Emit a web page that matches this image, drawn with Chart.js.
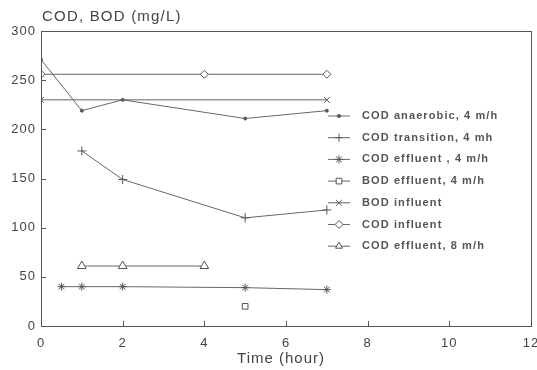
<!DOCTYPE html>
<html>
<head>
<meta charset="utf-8">
<script src="https://cdn.jsdelivr.net/npm/chart.js@4/dist/chart.umd.min.js"></script>
<style>
  html, body { margin: 0; padding: 0; background: #fff; }
  #wrap { width: 537px; height: 370px; }
</style>
</head>
<body>
<div id="wrap"><canvas id="codChart" width="537" height="370"></canvas></div>
<script>
// ── Data ──────────────────────────────────────────────────────
const anaerobicTime   = [0, 1, 2, 5, 7];
const anaerobicCOD    = [271, 219, 230, 211, 219];

const transitionTime  = [1, 2, 5, 7];
const transitionCOD   = [178, 149, 110, 118];

const effluent4Time   = [0.5, 1, 2, 5, 7];
const effluent4COD    = [40, 40, 40, 39, 37];

const bodEffluentTime = [5];
const bodEffluent     = [20];

const bodInfluentTime = [0, 7];
const bodInfluent     = [230, 230];

const codInfluentTime = [0, 4, 7];
const codInfluent     = [256, 256, 256];

const effluent8Time   = [1, 2, 4];
const effluent8COD    = [61, 61, 61];

const xTicks = [0, 2, 4, 6, 8, 10, 12];
const yTicks = [0, 50, 100, 150, 200, 250, 300];

const INK  = '#444';
const LINE = '#666';
const FONT = "'Liberation Sans', Arial, sans-serif";

// zip two arrays into {x, y} points
const pts = (xs, ys) => xs.map((x, i) => ({ x: x, y: ys[i] }));

// shared look for every series
function series(label, xs, ys, style, radius, extra) {
    return Object.assign({
        label: label,
        data: pts(xs, ys),
        borderColor: LINE,
        borderWidth: 1,
        pointStyle: style,
        pointRadius: radius,
        pointBorderColor: '#555',
        pointBorderWidth: 1,
        pointBackgroundColor: '#fff',
        tension: 0
    }, extra || {});
}

// wide lettering like the original (tick labels are drawn in between)
const spacingPlugin = {
    id: 'spacing',
    beforeDraw(chart) { chart.ctx.letterSpacing = '1px'; }
};

// ── Box frame, inward tick marks, captions ────────────────────
const framePlugin = {
    id: 'frame',
    afterDraw(chart) {
        const { ctx, chartArea: a, scales } = chart;
        ctx.save();
        ctx.strokeStyle = '#555';
        ctx.lineWidth = 1;
        ctx.strokeRect(a.left + 0.5, a.top + 0.5, a.right - a.left, a.bottom - a.top);

        ctx.beginPath();
        xTicks.slice(1, -1).forEach(v => {
            const x = Math.round(scales.x.getPixelForValue(v)) + 0.5;
            ctx.moveTo(x, a.bottom);
            ctx.lineTo(x, a.bottom - 5);
        });
        yTicks.slice(1, -1).forEach(v => {
            const y = Math.round(scales.y.getPixelForValue(v)) + 0.5;
            ctx.moveTo(a.left, y);
            ctx.lineTo(a.left + 5, y);
        });
        ctx.stroke();

        ctx.letterSpacing = '1.2px';
        ctx.fillStyle = INK;
        ctx.font = '15px ' + FONT;
        ctx.textBaseline = 'middle';
        ctx.textAlign = 'left';
        ctx.fillText('COD, BOD (mg/L)', 42, 17);   // y axis caption

        ctx.letterSpacing = '1px';
        ctx.textAlign = 'center';
        ctx.fillText('Time (hour)', 281, 359);     // x axis caption
        ctx.restore();
    }
};

// ── Legend inside the plot, right side ────────────────────────
const legendPlugin = {
    id: 'insideLegend',
    afterDraw(chart) {
        const ctx = chart.ctx;
        ctx.save();
        ctx.letterSpacing = '1.1px';
        ctx.font = 'bold 11px ' + FONT;
        ctx.textBaseline = 'middle';
        ctx.textAlign = 'left';
        chart.data.datasets.forEach((ds, i) => {
            const y = 116 + i * 21.7;
            ctx.strokeStyle = LINE;
            ctx.lineWidth = 1;
            ctx.beginPath();
            ctx.moveTo(328, y);
            ctx.lineTo(350, y);
            ctx.stroke();
            ctx.strokeStyle = '#555';
            ctx.fillStyle = ds.pointBackgroundColor;
            Chart.helpers.drawPoint(ctx, {
                pointStyle: ds.pointStyle,
                radius: Math.min(ds.pointRadius, 4),
                rotation: 0,
                borderWidth: 1
            }, 339, y);
            ctx.fillStyle = '#555';
            ctx.fillText(ds.label, 362, y);
        });
        ctx.restore();
    }
};

new Chart(document.getElementById('codChart'), {
    type: 'line',
    data: {
        datasets: [
            series('COD anaerobic, 4 m/h', anaerobicTime, anaerobicCOD, 'circle', 1.5,
                   { pointBackgroundColor: '#555' }),
            series('COD transition, 4 mh', transitionTime, transitionCOD, 'cross', 4.5),
            series('COD effluent , 4 m/h', effluent4Time, effluent4COD, 'star', 4),
            series('BOD effluent, 4 m/h', bodEffluentTime, bodEffluent, 'rect', 4,
                   { showLine: false }),
            series('BOD influent', bodInfluentTime, bodInfluent, 'crossRot', 4),
            series('COD influent', codInfluentTime, codInfluent, 'rectRot', 4),
            series('COD effluent, 8 m/h', effluent8Time, effluent8COD, 'triangle', 5)
        ]
    },
    options: {
        responsive: false,
        animation: false,
        layout: { padding: { top: 31, right: 6, left: 0, bottom: 0 } },
        plugins: {
            legend:  { display: false },
            tooltip: { enabled: false }
        },
        scales: {
            x: {
                type: 'linear',
                min: 0,
                max: 12,
                afterFit: s => { s.height = 44; s.paddingLeft = 0; s.paddingRight = 0; },
                afterBuildTicks: s => { s.ticks = xTicks.map(v => ({ value: v })); },
                grid:   { display: false, drawTicks: false },
                border: { display: false },
                ticks:  { color: INK, font: { size: 13, family: FONT }, padding: 10, maxRotation: 0 }
            },
            y: {
                min: 0,
                max: 300,
                afterFit: s => { s.width = 41; s.paddingTop = 0; s.paddingBottom = 0; },
                afterBuildTicks: s => { s.ticks = yTicks.map(v => ({ value: v })); },
                grid:   { display: false, drawTicks: false },
                border: { display: false },
                ticks:  { color: INK, font: { size: 13, family: FONT }, padding: 5 }
            }
        }
    },
    plugins: [spacingPlugin, framePlugin, legendPlugin]
});
</script>
</body>
</html>
